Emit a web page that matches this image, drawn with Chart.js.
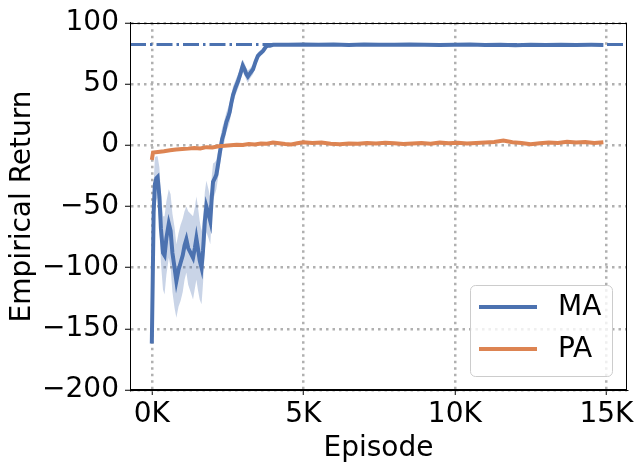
<!DOCTYPE html>
<html>
<head>
<meta charset="utf-8">
<script src="https://cdn.jsdelivr.net/npm/chart.js@4.4.0/dist/chart.umd.min.js"></script>
<style>
  html, body { margin: 0; padding: 0; background: #fff; }
  #wrap { width: 642px; height: 471px; }
</style>
</head>
<body>
<div id="wrap"><canvas id="chart" width="642" height="471"></canvas></div>
<script>
// datos
const maEpisodes = [0, 30, 60, 100, 150, 190, 250, 300, 370, 420, 480, 560, 620, 680, 750, 810, 880, 950,
  1020, 1080, 1140, 1200, 1280, 1360, 1420, 1470, 1520, 1580, 1640, 1690, 1750, 1800, 1870, 1930, 1980,
  2020, 2080, 2130, 2190, 2240, 2280, 2320, 2380, 2460, 2520, 2570, 2620, 2680, 2760, 2840, 2920,
  3000, 3060, 3120, 3170, 3250, 3340, 3420, 3500, 3580, 3670, 3750, 3830, 3900,
  4000, 4500, 5000, 5500, 6000, 6500, 7000, 7500, 8000, 8500, 9000, 9500, 10000, 10500, 11000, 11500,
  12000, 12500, 13000, 13500, 14000, 14500, 14900];
const maMean = [-162, -110, -55, -32, -27, -26, -42, -68, -88, -90, -76, -64, -70, -88, -100, -111, -102, -96,
  -90, -82, -77, -84, -88, -92, -84, -76, -84, -94, -100, -86, -62, -50, -56, -62, -42,
  -30, -27, -24, -15, -7, -1, 5, 10, 19, 23, 27, 34, 41, 47, 52, 58,
  65, 62, 58, 56, 59, 62, 68, 73, 75, 77, 80, 81.5, 81.2,
  82, 82.1, 82.3, 82.0, 82.2, 81.9, 82.3, 82.1, 82.0, 82.2, 82.1, 81.8, 82.0, 82.2, 81.9, 82.1,
  81.6, 82.0, 81.8, 82.1, 81.9, 82.0, 81.9];
const maStd = [3, 18, 24, 22, 18, 17, 24, 28, 30, 32, 30, 28, 30, 32, 33, 30, 30, 31,
  30, 28, 27, 30, 32, 34, 33, 34, 34, 32, 30, 27, 24, 21, 20, 19, 17,
  15, 13, 12, 11, 10, 10, 9, 9, 8, 8, 8, 7, 7, 6, 6, 6,
  5, 5, 5, 5, 4, 4, 3.5, 3, 2.5, 2, 1.8, 1.2, 1,
  1, 0.8, 0.8, 0.8, 0.8, 0.8, 0.8, 0.8, 0.8, 0.8, 0.8, 0.8, 0.8, 0.8, 0.8, 0.8,
  0.8, 0.8, 0.8, 0.8, 0.8, 0.8, 0.8];

const paEpisodes = [0, 40, 200, 400, 600, 800, 1000, 1200, 1400, 1600, 1800, 2000, 2200, 2400, 2600, 2800,
  3000, 3200, 3400, 3600, 3800, 4000, 4200, 4400, 4600, 4800, 5000, 5300, 5600, 5900, 6200, 6500,
  6800, 7100, 7400, 7700, 8000, 8300, 8600, 8900, 9200, 9500, 9800, 10100, 10400, 10700, 11000,
  11300, 11600, 11900, 12200, 12500, 12800, 13100, 13400, 13700, 14000, 14300, 14600, 14900];
const paMean = [-12, -6, -5.5, -5, -4.2, -3.6, -3.2, -2.8, -2.2, -2.6, -1.6, -1.9, -0.8, -0.5, 0, 0.4,
  0.2, 1.0, 0.6, 1.4, 1.2, 2.2, 1.6, 0.9, 0.6, 1.6, 2.4, 1.8, 2.2, 1.2, 0.8, 1.4,
  1.1, 1.8, 1.3, 2.0, 1.5, 0.9, 1.4, 1.7, 1.2, 2.1, 1.6, 2.0, 1.3, 1.8, 2.2,
  2.6, 3.8, 2.4, 1.8, 0.8, 1.6, 2.2, 1.9, 2.8, 2.2, 2.6, 1.8, 2.5];

const targetReturn = 82.3;
const xTicks = [0, 5000, 10000, 15000];
const xMin = -720, xMax = 15680;
const yMin = -200, yMax = 100, yStep = 50;

const azul = '#4C72B0';
const naranja = '#DD8452';
const fuente = 'DejaVu Sans';
const tam = 28;

function puntos(xs, ys) {
  return xs.map((x, i) => ({ x: x, y: ys[i] }));
}

// marco completo (spines)
const marco = {
  id: 'marco',
  afterDatasetsDraw(chart) {
    const { ctx, chartArea: a } = chart;
    ctx.save();
    ctx.strokeStyle = '#000';
    ctx.lineWidth = 1;
    ctx.strokeRect(Math.round(a.left) + 0.5, Math.round(a.top) + 0.5,
      Math.round(a.right - a.left) - 1, Math.round(a.bottom - a.top) - 1);
    ctx.restore();
  }
};

// leyenda dentro del area
const leyenda = {
  id: 'leyenda',
  afterDraw(chart) {
    const ctx = chart.ctx;
    const items = chart.data.datasets.filter(d => d.enLeyenda).sort((a, b) => a.enLeyenda - b.enLeyenda);
    const x = 470, y = 285, w = 142, h = 91, r = 5;
    ctx.save();
    ctx.beginPath();
    ctx.roundRect(x + 0.5, y + 0.5, w, h, r);
    ctx.fillStyle = 'rgba(255,255,255,0.8)';
    ctx.fill();
    ctx.strokeStyle = '#cccccc';
    ctx.lineWidth = 1;
    ctx.stroke();
    ctx.font = tam + 'px "' + fuente + '"';
    ctx.textBaseline = 'middle';
    items.forEach((d, i) => {
      const yy = 307 + i * 42;
      ctx.strokeStyle = d.borderColor;
      ctx.lineWidth = 4;
      ctx.beginPath();
      ctx.moveTo(479, yy);
      ctx.lineTo(537, yy);
      ctx.stroke();
      ctx.fillStyle = '#000';
      ctx.fillText(d.label, 558, yy + 1);
    });
    ctx.restore();
  }
};

const ctx = document.getElementById('chart');

const gridOpts = { color: '#b0b0b0', lineWidth: 2.5, tickColor: '#000', tickLength: 5, tickWidth: 1 };
const bordeOpts = { display: true, color: '#000', width: 1, dash: [2.5, 4] };

new Chart(ctx, {
  type: 'line',
  data: {
    datasets: [{
      label: 'PA',
      enLeyenda: 2,
      data: puntos(paEpisodes, paMean),
      borderColor: naranja,
      borderWidth: 4,
      pointRadius: 0,
      tension: 0,
      fill: false
    }, {
      label: 'MA',
      enLeyenda: 1,
      data: puntos(maEpisodes, maMean),
      borderColor: azul,
      borderWidth: 4,
      pointRadius: 0,
      tension: 0,
      fill: false
    }, {
      label: 'MA sup',
      data: puntos(maEpisodes, maMean.map((m, i) => m + maStd[i])),
      borderWidth: 0,
      borderColor: 'rgba(0,0,0,0)',
      backgroundColor: 'rgba(76,114,176,0.3)',
      pointRadius: 0,
      fill: '+1'
    }, {
      label: 'MA inf',
      data: puntos(maEpisodes, maMean.map((m, i) => m - maStd[i])),
      borderWidth: 0,
      borderColor: 'rgba(0,0,0,0)',
      pointRadius: 0,
      fill: false
    }, {
      label: 'objetivo',
      data: [{ x: xMin, y: targetReturn }, { x: xMax, y: targetReturn }],
      borderColor: azul,
      borderWidth: 3,
      borderDash: [16, 4, 2.5, 4],
      pointRadius: 0,
      fill: false
    }]
  },
  options: {
    responsive: false,
    animation: false,
    devicePixelRatio: 1,
    layout: { padding: { left: 0, top: 21, right: 15, bottom: 0 } },
    plugins: {
      legend: { display: false },
      tooltip: { enabled: false }
    },
    scales: {
      x: {
        type: 'linear',
        min: xMin,
        max: xMax,
        afterBuildTicks: s => { s.ticks = xTicks.map(v => ({ value: v })); },
        afterFit: s => { s.height = 81; },
        ticks: {
          color: '#000',
          font: { family: fuente, size: tam },
          padding: 3,
          maxRotation: 0,
          callback: v => (v / 1000) + 'K'
        },
        grid: gridOpts,
        border: bordeOpts,
        title: { display: true, text: 'Episode', color: '#000', font: { family: fuente, size: tam }, padding: { top: 0, bottom: 5 } }
      },
      y: {
        min: yMin,
        max: yMax,
        afterFit: s => { s.width = 130; },
        ticks: {
          stepSize: yStep,
          color: '#000',
          font: { family: fuente, size: tam },
          padding: 6,
          callback: v => String(v).replace('-', '\u2212')
        },
        grid: gridOpts,
        border: bordeOpts,
        title: { display: true, text: 'Empirical Return', color: '#000', font: { family: fuente, size: tam }, padding: { top: 6, bottom: 0 } }
      }
    }
  },
  plugins: [marco, leyenda]
});
</script>
</body>
</html>
